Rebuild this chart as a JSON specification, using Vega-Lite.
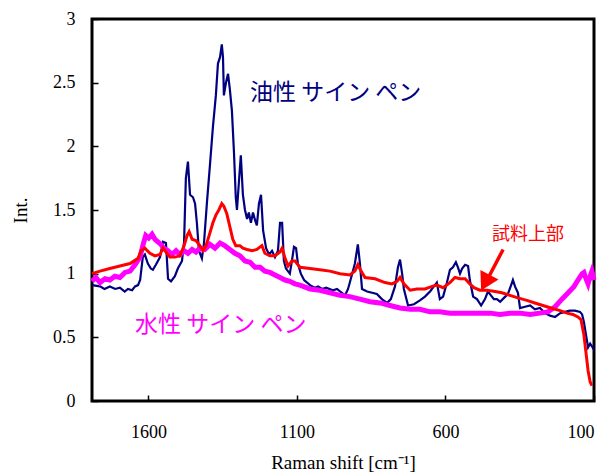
{
  "$schema": "https://vega.github.io/schema/vega-lite/v6.json",
  "width": 502,
  "height": 382,
  "autosize": {"type": "none"},
  "padding": {"left": 92, "top": 19, "right": 16, "bottom": 74},
  "background": "white",
  "config": {
    "view": {"stroke": "black", "strokeWidth": 3},
    "axis": {"grid": false, "zindex": 1, "labelFont": "Liberation Serif", "titleFont": "Liberation Serif", "labelFontSize": 18, "titleFontSize": 19, "titleFontWeight": "normal", "labelColor": "black", "titleColor": "black", "domain": false, "ticks": true, "tickColor": "#000000", "tickWidth": 1.5, "tickSize": 6, "offset": -6}
  },
  "datasets": {
    "oily": [
      {"shift":1790,"int":0.91},{"shift":1763,"int":0.90},{"shift":1748,"int":0.88},{"shift":1730,"int":0.90},{"shift":1712,"int":0.88},{"shift":1696,"int":0.89},{"shift":1680,"int":0.86},{"shift":1669,"int":0.88},{"shift":1655,"int":0.87},{"shift":1645,"int":0.90},{"shift":1635,"int":0.91},{"shift":1628,"int":0.95},{"shift":1619,"int":1.13},{"shift":1612,"int":1.15},{"shift":1602,"int":1.08},{"shift":1592,"int":1.04},{"shift":1585,"int":1.03},{"shift":1575,"int":1.07},{"shift":1561,"int":1.13},{"shift":1551,"int":1.25},{"shift":1541,"int":1.24},{"shift":1534,"int":0.96},{"shift":1524,"int":0.94},{"shift":1511,"int":0.98},{"shift":1501,"int":1.04},{"shift":1487,"int":1.10},{"shift":1480,"int":1.25},{"shift":1474,"int":1.75},{"shift":1467,"int":1.88},{"shift":1460,"int":1.62},{"shift":1450,"int":1.60},{"shift":1443,"int":1.55},{"shift":1437,"int":1.40},{"shift":1430,"int":1.18},{"shift":1420,"int":1.12},{"shift":1413,"int":1.24},{"shift":1403,"int":1.56},{"shift":1393,"int":1.85},{"shift":1383,"int":2.15},{"shift":1373,"int":2.40},{"shift":1366,"int":2.65},{"shift":1359,"int":2.70},{"shift":1353,"int":2.80},{"shift":1349,"int":2.70},{"shift":1346,"int":2.40},{"shift":1339,"int":2.50},{"shift":1332,"int":2.57},{"shift":1326,"int":2.45},{"shift":1319,"int":2.28},{"shift":1312,"int":1.95},{"shift":1306,"int":1.60},{"shift":1302,"int":1.50},{"shift":1296,"int":1.70},{"shift":1289,"int":1.93},{"shift":1282,"int":1.62},{"shift":1275,"int":1.50},{"shift":1268,"int":1.43},{"shift":1262,"int":1.48},{"shift":1255,"int":1.40},{"shift":1248,"int":1.48},{"shift":1241,"int":1.42},{"shift":1235,"int":1.38},{"shift":1228,"int":1.55},{"shift":1221,"int":1.62},{"shift":1214,"int":1.34},{"shift":1204,"int":1.20},{"shift":1194,"int":1.15},{"shift":1184,"int":1.18},{"shift":1174,"int":1.13},{"shift":1164,"int":1.18},{"shift":1157,"int":1.40},{"shift":1150,"int":1.40},{"shift":1144,"int":1.10},{"shift":1137,"int":1.04},{"shift":1124,"int":1.00},{"shift":1117,"int":1.10},{"shift":1110,"int":1.21},{"shift":1103,"int":1.20},{"shift":1097,"int":1.08},{"shift":1087,"int":1.00},{"shift":1076,"int":0.95},{"shift":1056,"int":0.91},{"shift":1040,"int":0.89},{"shift":1029,"int":0.90},{"shift":1015,"int":0.88},{"shift":1002,"int":0.89},{"shift":979,"int":0.87},{"shift":965,"int":0.88},{"shift":955,"int":0.86},{"shift":938,"int":0.83},{"shift":928,"int":0.88},{"shift":914,"int":1.00},{"shift":905,"int":1.08},{"shift":895,"int":1.23},{"shift":888,"int":1.08},{"shift":881,"int":0.88},{"shift":864,"int":0.86},{"shift":847,"int":0.85},{"shift":831,"int":0.84},{"shift":814,"int":0.80},{"shift":797,"int":0.77},{"shift":784,"int":0.80},{"shift":770,"int":0.90},{"shift":760,"int":1.05},{"shift":753,"int":1.11},{"shift":746,"int":1.00},{"shift":740,"int":0.88},{"shift":726,"int":0.75},{"shift":706,"int":0.76},{"shift":686,"int":0.79},{"shift":669,"int":0.82},{"shift":652,"int":0.86},{"shift":639,"int":0.90},{"shift":629,"int":0.93},{"shift":619,"int":0.80},{"shift":608,"int":0.82},{"shift":595,"int":0.93},{"shift":585,"int":1.03},{"shift":575,"int":1.05},{"shift":565,"int":1.09},{"shift":558,"int":1.05},{"shift":551,"int":1.00},{"shift":544,"int":1.04},{"shift":534,"int":1.07},{"shift":524,"int":1.06},{"shift":518,"int":0.95},{"shift":507,"int":0.82},{"shift":494,"int":0.80},{"shift":480,"int":0.75},{"shift":467,"int":0.80},{"shift":457,"int":0.86},{"shift":447,"int":0.83},{"shift":437,"int":0.80},{"shift":427,"int":0.80},{"shift":416,"int":0.78},{"shift":403,"int":0.81},{"shift":390,"int":0.84},{"shift":379,"int":0.91},{"shift":373,"int":0.95},{"shift":366,"int":0.90},{"shift":356,"int":0.85},{"shift":349,"int":0.73},{"shift":332,"int":0.74},{"shift":315,"int":0.75},{"shift":299,"int":0.72},{"shift":282,"int":0.73},{"shift":265,"int":0.69},{"shift":248,"int":0.67},{"shift":231,"int":0.66},{"shift":214,"int":0.69},{"shift":198,"int":0.70},{"shift":181,"int":0.71},{"shift":164,"int":0.71},{"shift":147,"int":0.70},{"shift":140,"int":0.68},{"shift":134,"int":0.62},{"shift":127,"int":0.52},{"shift":120,"int":0.42},{"shift":113,"int":0.45},{"shift":107,"int":0.43},{"shift":100,"int":0.40}
    ],
    "water": [
      {"shift":1790,"int":0.94},{"shift":1777,"int":0.97},{"shift":1763,"int":0.93},{"shift":1746,"int":0.96},{"shift":1730,"int":0.95},{"shift":1713,"int":0.98},{"shift":1696,"int":0.97},{"shift":1679,"int":1.01},{"shift":1662,"int":1.02},{"shift":1645,"int":1.07},{"shift":1628,"int":1.13},{"shift":1619,"int":1.22},{"shift":1609,"int":1.30},{"shift":1599,"int":1.28},{"shift":1588,"int":1.31},{"shift":1578,"int":1.27},{"shift":1568,"int":1.25},{"shift":1558,"int":1.23},{"shift":1548,"int":1.20},{"shift":1534,"int":1.18},{"shift":1521,"int":1.15},{"shift":1507,"int":1.18},{"shift":1494,"int":1.15},{"shift":1480,"int":1.18},{"shift":1467,"int":1.16},{"shift":1453,"int":1.19},{"shift":1440,"int":1.17},{"shift":1427,"int":1.20},{"shift":1410,"int":1.19},{"shift":1393,"int":1.23},{"shift":1376,"int":1.20},{"shift":1359,"int":1.24},{"shift":1343,"int":1.22},{"shift":1326,"int":1.19},{"shift":1309,"int":1.16},{"shift":1292,"int":1.14},{"shift":1275,"int":1.10},{"shift":1258,"int":1.09},{"shift":1241,"int":1.05},{"shift":1224,"int":1.05},{"shift":1208,"int":1.02},{"shift":1191,"int":1.01},{"shift":1174,"int":0.99},{"shift":1157,"int":0.97},{"shift":1140,"int":0.95},{"shift":1124,"int":0.94},{"shift":1107,"int":0.92},{"shift":1090,"int":0.91},{"shift":1056,"int":0.88},{"shift":1023,"int":0.87},{"shift":989,"int":0.85},{"shift":955,"int":0.83},{"shift":922,"int":0.82},{"shift":888,"int":0.80},{"shift":854,"int":0.78},{"shift":820,"int":0.77},{"shift":787,"int":0.75},{"shift":753,"int":0.73},{"shift":719,"int":0.72},{"shift":686,"int":0.72},{"shift":652,"int":0.70},{"shift":619,"int":0.70},{"shift":585,"int":0.69},{"shift":551,"int":0.69},{"shift":518,"int":0.69},{"shift":484,"int":0.69},{"shift":450,"int":0.69},{"shift":416,"int":0.68},{"shift":383,"int":0.69},{"shift":349,"int":0.69},{"shift":315,"int":0.68},{"shift":282,"int":0.69},{"shift":255,"int":0.70},{"shift":231,"int":0.74},{"shift":208,"int":0.80},{"shift":187,"int":0.85},{"shift":167,"int":0.90},{"shift":154,"int":0.95},{"shift":140,"int":1.00},{"shift":134,"int":1.01},{"shift":127,"int":0.96},{"shift":120,"int":0.92},{"shift":113,"int":0.98},{"shift":107,"int":1.02},{"shift":100,"int":0.95}
    ],
    "sample": [
      {"shift":1790,"int":1.00},{"shift":1763,"int":1.02},{"shift":1730,"int":1.04},{"shift":1696,"int":1.06},{"shift":1662,"int":1.08},{"shift":1635,"int":1.12},{"shift":1625,"int":1.18},{"shift":1612,"int":1.20},{"shift":1595,"int":1.16},{"shift":1578,"int":1.14},{"shift":1561,"int":1.15},{"shift":1551,"int":1.20},{"shift":1541,"int":1.17},{"shift":1528,"int":1.13},{"shift":1511,"int":1.13},{"shift":1494,"int":1.14},{"shift":1480,"int":1.22},{"shift":1470,"int":1.30},{"shift":1463,"int":1.33},{"shift":1453,"int":1.27},{"shift":1440,"int":1.26},{"shift":1427,"int":1.22},{"shift":1416,"int":1.18},{"shift":1406,"int":1.22},{"shift":1393,"int":1.32},{"shift":1383,"int":1.40},{"shift":1373,"int":1.46},{"shift":1363,"int":1.50},{"shift":1353,"int":1.55},{"shift":1346,"int":1.53},{"shift":1336,"int":1.47},{"shift":1326,"int":1.37},{"shift":1316,"int":1.27},{"shift":1306,"int":1.22},{"shift":1292,"int":1.22},{"shift":1282,"int":1.20},{"shift":1268,"int":1.19},{"shift":1251,"int":1.18},{"shift":1235,"int":1.19},{"shift":1218,"int":1.22},{"shift":1208,"int":1.16},{"shift":1191,"int":1.14},{"shift":1174,"int":1.14},{"shift":1157,"int":1.17},{"shift":1150,"int":1.20},{"shift":1140,"int":1.12},{"shift":1130,"int":1.06},{"shift":1117,"int":1.10},{"shift":1107,"int":1.10},{"shift":1090,"int":1.05},{"shift":1056,"int":1.04},{"shift":1023,"int":1.03},{"shift":989,"int":1.02},{"shift":955,"int":1.00},{"shift":922,"int":0.99},{"shift":905,"int":1.02},{"shift":895,"int":1.07},{"shift":884,"int":1.02},{"shift":871,"int":0.97},{"shift":837,"int":0.96},{"shift":804,"int":0.93},{"shift":780,"int":0.92},{"shift":763,"int":0.94},{"shift":753,"int":0.97},{"shift":740,"int":0.92},{"shift":719,"int":0.87},{"shift":696,"int":0.88},{"shift":669,"int":0.88},{"shift":645,"int":0.90},{"shift":629,"int":0.91},{"shift":608,"int":0.89},{"shift":585,"int":0.93},{"shift":568,"int":0.97},{"shift":551,"int":0.96},{"shift":534,"int":0.96},{"shift":518,"int":0.92},{"shift":504,"int":0.89},{"shift":484,"int":0.87},{"shift":460,"int":0.87},{"shift":433,"int":0.86},{"shift":410,"int":0.85},{"shift":383,"int":0.83},{"shift":356,"int":0.81},{"shift":326,"int":0.79},{"shift":299,"int":0.77},{"shift":272,"int":0.75},{"shift":245,"int":0.73},{"shift":214,"int":0.71},{"shift":191,"int":0.69},{"shift":171,"int":0.68},{"shift":154,"int":0.66},{"shift":144,"int":0.64},{"shift":134,"int":0.52},{"shift":127,"int":0.38},{"shift":120,"int":0.24},{"shift":113,"int":0.15},{"shift":107,"int":0.12}
    ],
    "arrow": [
      {"shift":406,"int":1.19},{"shift":462,"int":0.94}
    ]
  },
  "encoding": {
    "x": {"field": "shift", "type": "quantitative", "scale": {"domain": [100, 1790], "reverse": true, "nice": false, "zero": false},
      "axis": {"values": [100, 600, 1100, 1600], "format": "d", "title": "Raman shift [cm⁻¹]", "labelFont": "Liberation Serif", "titleFont": "Liberation Serif", "labelPadding": 22, "titlePadding": 12}},
    "y": {"field": "int", "type": "quantitative", "scale": {"domain": [0, 3], "nice": false},
      "axis": {"values": [0, 0.5, 1, 1.5, 2, 2.5, 3], "format": "~g", "title": "Int.", "labelFont": "Liberation Serif", "titleFont": "Liberation Serif", "labelPadding": 17, "titlePadding": 22}}
  },
  "layer": [
    {"data": {"name": "oily"}, "mark": {"type": "line", "color": "#000080", "strokeWidth": 2.2}},
    {"data": {"name": "water"}, "mark": {"type": "line", "color": "#FF00FF", "strokeWidth": 5}},
    {"data": {"name": "sample"}, "mark": {"type": "line", "color": "#FF0000", "strokeWidth": 3}},
    {"data": {"name": "arrow"}, "mark": {"type": "line", "color": "#FF0000", "strokeWidth": 3.5}},
    {"data": {"values": [{"shift": 466, "int": 0.93}]}, "mark": {"type": "point", "shape": "triangle-up", "filled": true, "color": "#FF0000", "size": 420, "angle": 208, "opacity": 1}},
    {"data": {"values": [{"shift": 1258, "int": 2.42, "label": "油性 サイン ペン"}]}, "mark": {"type": "text", "align": "left", "baseline": "middle", "font": "Noto Sans CJK JP", "fontSize": 23, "color": "#000080"}, "encoding": {"text": {"field": "label"}}},
    {"data": {"values": [{"shift": 1645, "int": 0.60, "label": "水性 サイン ペン"}]}, "mark": {"type": "text", "align": "left", "baseline": "middle", "font": "Noto Sans CJK JP", "fontSize": 23, "color": "#FF00FF"}, "encoding": {"text": {"field": "label"}}},
    {"data": {"values": [{"shift": 443, "int": 1.30, "label": "試料上部"}]}, "mark": {"type": "text", "align": "left", "baseline": "middle", "font": "Noto Sans CJK JP", "fontSize": 18, "color": "#FF0000"}, "encoding": {"text": {"field": "label"}}}
  ]
}
